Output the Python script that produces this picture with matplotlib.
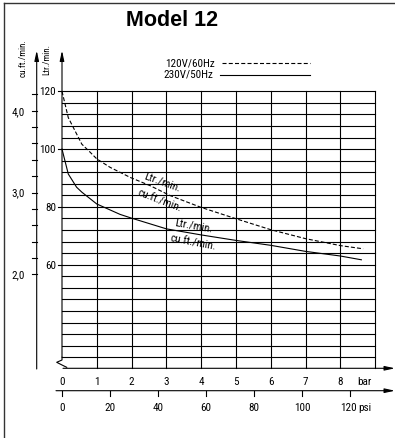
import matplotlib
matplotlib.use('Agg')
import matplotlib.pyplot as plt
from matplotlib.lines import Line2D

plt.rcParams['font.family'] = ['Roboto Condensed', 'DejaVu Sans']
plt.rcParams['lines.scale_dashes'] = False

# flow curves, x in bar, y in Ltr./min.
dash_bar = [0, 0.18, 0.57, 0.81, 1.0, 1.38, 1.96, 2.54, 3.11, 3.98, 5, 6, 7, 8, 8.65]
dash_ltr = [120, 110.9, 101.7, 98.9, 96.6, 93.7, 90.2, 87.3, 83.9, 79.9, 75.9, 72.1, 69.0, 66.6, 65.5]
solid_bar = [0, 0.18, 0.42, 0.57, 1, 1.67, 2, 3, 4, 5, 6, 7, 8, 8.6]
solid_ltr = [100, 91.4, 86.8, 85.1, 81, 77.4, 76.1, 72.4, 70.3, 68.4, 66.7, 64.6, 63, 61.7]

bar_ticks = [0, 1, 2, 3, 4, 5, 6, 7, 8]
psi_ticks = [0, 20, 40, 60, 80, 100, 120]
ltr_ticks = [60, 80, 100, 120]
cuft_ticks = [2.0, 2.2, 2.4, 2.6, 2.8, 3.0, 3.2, 3.4, 3.6, 3.8, 4.0, 4.2]
cuft_labels = {2.0: '2,0', 3.0: '3,0', 4.0: '4,0'}
grid_levels = list(range(28, 121, 4))

PSI_TO_BAR = 0.0689476
CUFT_TO_LTR = 28.3168

# pixel layout of the drawing
W, H = 395, 439
X0, XS = 62.0, 34.81   # px of 0 bar, px per bar
Y0, YS = 92.3, 2.89    # px of 120 Ltr, px per Ltr


def px(x, y):
    return (x - X0) / XS, 120 - (y - Y0) / YS


fig = plt.figure(figsize=(W / 100, H / 100), dpi=100)
ax = fig.add_axes([0, 0, 1, 1])
ax.set_xlim(-X0 / XS, (W - X0) / XS)
ax.set_ylim(120 - (H - Y0) / YS, 120 + Y0 / YS)
ax.axis('off')

lw = 0.8
k = 'black'
fs = 8
bar_y = px(0, 369.3)[1]
psi_y = px(0, 391.7)[1]
top_y = px(0, 51.5)[1]
cuft_x = px(36.7, 0)[0]

# grid
for v in grid_levels:
    ax.plot([0, 9], [v, v], color=k, lw=lw)
for b in range(1, 10):
    ax.plot([b, b], [bar_y, 120], color=k, lw=lw)
for v in ltr_ticks:
    ax.plot([px(57.5, 0)[0], 0], [v, v], color=k, lw=lw)
    ax.text(px(56, 0)[0], v, str(v), ha='right', va='center', fontsize=fs)

arrow = dict(arrowstyle='-|>,head_length=0.6,head_width=0.13', color=k, lw=lw,
             shrinkA=0, shrinkB=0)

# Ltr axis with break mark
ax.annotate('', xy=(0, top_y), xytext=(0, 28), arrowprops=arrow)
zx, zy = zip(*[px(62, 358.3), px(62, 361), px(56.7, 363.3), px(62, 366), px(66.7, 368.3)])
ax.plot(zx, zy, color=k, lw=lw)

# cu.ft axis
ax.annotate('', xy=(cuft_x, top_y), xytext=(cuft_x, px(0, 370)[1]), arrowprops=arrow)
for c in cuft_ticks:
    v = c * CUFT_TO_LTR
    ax.plot([px(31.5, 0)[0], cuft_x], [v, v], color=k, lw=lw)
    if c in cuft_labels:
        ax.text(px(25, 0)[0], v, cuft_labels[c], ha='right', va='center', fontsize=fs)

# bar axis
ax.annotate('', xy=(px(395, 0)[0], bar_y), xytext=(px(63, 0)[0], bar_y), arrowprops=arrow)
for b in bar_ticks:
    ax.text(b, px(0, 381.7)[1], str(b), ha='center', va='center', fontsize=fs)
ax.text(px(364.5, 0)[0], px(0, 381.7)[1], 'bar', ha='center', va='center', fontsize=fs)

# psi axis
ax.annotate('', xy=(px(395, 0)[0], psi_y), xytext=(px(56, 0)[0], psi_y), arrowprops=arrow)
for p in psi_ticks:
    x = p * PSI_TO_BAR
    ax.plot([x, x], [psi_y, psi_y - 5 / YS], color=k, lw=lw)
    ax.text(x - 2 / XS * (p == 120), px(0, 408)[1], str(p), ha='center', va='center', fontsize=fs)
ax.text(px(358, 0)[0], px(0, 408)[1], 'psi', ha='left', va='center', fontsize=fs)

# axis titles
ax.text(*px(23.5, 58.5), 'cu.ft./min.', rotation=90, ha='center', va='center', fontsize=6.5)
ax.text(*px(46.5, 59), 'Ltr./min.', rotation=90, ha='center', va='center', fontsize=6.5)

# curves
ax.plot(dash_bar, dash_ltr, color=k, lw=lw, linestyle=(0, (2.9, 1.5)))
ax.plot(solid_bar, solid_ltr, color=k, lw=lw)

ax.text(*px(162.7, 182.3), 'Ltr./min.', rotation=-20, ha='center', va='center', fontsize=fs)
ax.text(*px(159.3, 200.7), 'cu.ft./min.', rotation=-21, ha='center', va='center', fontsize=fs)
ax.text(*px(193.3, 226), 'Ltr./min.', rotation=-10, ha='center', va='center', fontsize=fs)
ax.text(*px(193.3, 243.3), 'cu.ft./min.', rotation=-11, ha='center', va='center', fontsize=fs)

# legend
ax.text(*px(215, 63.3), '120V/60Hz', ha='right', va='center', fontsize=fs)
ax.text(*px(213, 74.3), '230V/50Hz', ha='right', va='center', fontsize=fs)
lx, ly = zip(px(221.5, 64), px(310, 64))
ax.plot(lx, ly, color=k, lw=lw, linestyle=(0, (2.9, 1.6)))
lx, ly = zip(px(220, 76), px(310, 76))
ax.plot(lx, ly, color=k, lw=lw)

# title
fig.text(172 / W, 1 - 21 / H, 'Model 12', ha='center', va='center', fontsize=15.5,
         fontweight='bold', family='Liberation Sans')

# frame (top and left only)
fig.add_artist(Line2D([4 / W, 1], [1 - 4 / H, 1 - 4 / H], transform=fig.transFigure, color='#333', lw=1))
fig.add_artist(Line2D([4 / W, 4 / W], [0, 1 - 4 / H], transform=fig.transFigure, color='#333', lw=1))

fig.savefig('out.png', dpi=100)
